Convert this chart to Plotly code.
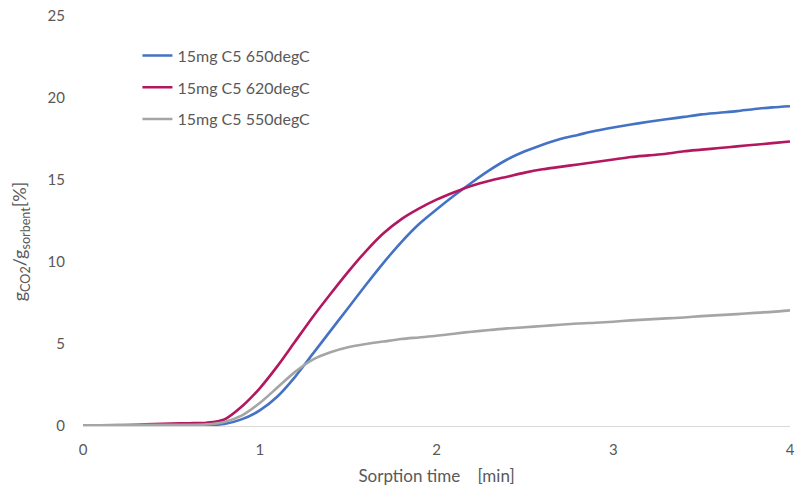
import plotly.graph_objects as go

time_min = [round(i * 0.1, 1) for i in range(41)]

c5_650 = [0.05, 0.05, 0.05, 0.05, 0.05, 0.05, 0.05, 0.05, 0.12, 0.42,
          0.95, 1.8, 3.0, 4.4, 5.8, 7.2, 8.6, 9.95, 11.2, 12.3,
          13.2, 14.05, 14.85, 15.6, 16.25, 16.75, 17.15, 17.5, 17.75, 18.0,
          18.2, 18.38, 18.55, 18.7, 18.85, 19.0, 19.1, 19.2, 19.33, 19.43, 19.5]

c5_620 = [0.05, 0.05, 0.05, 0.08, 0.12, 0.15, 0.17, 0.2, 0.4, 1.2,
          2.3, 3.65, 5.15, 6.65, 8.05, 9.4, 10.65, 11.75, 12.6, 13.25,
          13.8, 14.25, 14.65, 14.95, 15.2, 15.45, 15.65, 15.8, 15.95, 16.1,
          16.25, 16.4, 16.5, 16.6, 16.75, 16.85, 16.95, 17.05, 17.15, 17.25, 17.35]

c5_550 = [0.05, 0.05, 0.07, 0.08, 0.08, 0.08, 0.08, 0.1, 0.25, 0.65,
          1.4, 2.35, 3.3, 4.05, 4.5, 4.8, 5.0, 5.15, 5.3, 5.4,
          5.5, 5.63, 5.75, 5.85, 5.95, 6.02, 6.1, 6.17, 6.25, 6.3,
          6.36, 6.44, 6.5, 6.56, 6.62, 6.7, 6.76, 6.82, 6.9, 6.96, 7.05]

series_names = ["15mg C5 650degC", "15mg C5 620degC", "15mg C5 550degC"]
series_values = [c5_650, c5_620, c5_550]
colors = ["#4472C4", "#B2175F", "#A5A5A5"]

x_ticks = [0, 1, 2, 3, 4]
y_ticks = [0, 5, 10, 15, 20, 25]

FONT = "Lato, 'Open Sans', sans-serif"
TXT = "#595959"

fig = go.Figure()
for name, vals, col in zip(series_names, series_values, colors):
    fig.add_trace(go.Scatter(
        x=time_min, y=vals, mode="lines", name=name, legendgroup=name,
        line=dict(color=col, width=2.6, shape="spline", smoothing=0.8),
    ))

fig.update_layout(
    width=797, height=490,
    margin=dict(l=83, r=7, t=16, b=64, autoexpand=False),
    paper_bgcolor="white", plot_bgcolor="white",
    font=dict(family=FONT, size=15, color=TXT),
    showlegend=True,
    legend=dict(
        x=0.077, y=0.945, xanchor="left", yanchor="top",
        bgcolor="rgba(0,0,0,0)", font=dict(size=16, color=TXT),
        tracegroupgap=8, itemwidth=30,
    ),
    xaxis=dict(
        range=[0, 4], tickvals=x_ticks, ticktext=[str(v) for v in x_ticks],
        showgrid=False, zeroline=False, showline=True, linecolor="#D9D9D9",
        linewidth=1.3, ticks="", ticklabelstandoff=10, automargin=False,
        title=dict(text="Sorption time&nbsp;&nbsp;&nbsp;&nbsp;[min]", font=dict(size=17, color=TXT), standoff=12),
    ),
    yaxis=dict(
        range=[0, 25], tickvals=y_ticks, ticktext=[str(v) for v in y_ticks],
        showgrid=False, zeroline=False, showline=False, ticks="",
        ticklabelstandoff=17, automargin=False,
    ),
    annotations=[dict(
        text="g<sub>CO2</sub>/g<sub>sorbent</sub>[%]", textangle=-90,
        xref="paper", yref="paper", x=-0.088, y=0.45,
        xanchor="center", yanchor="middle", showarrow=False,
        font=dict(size=18, color=TXT),
    )],
)

fig.write_html("out.html")
